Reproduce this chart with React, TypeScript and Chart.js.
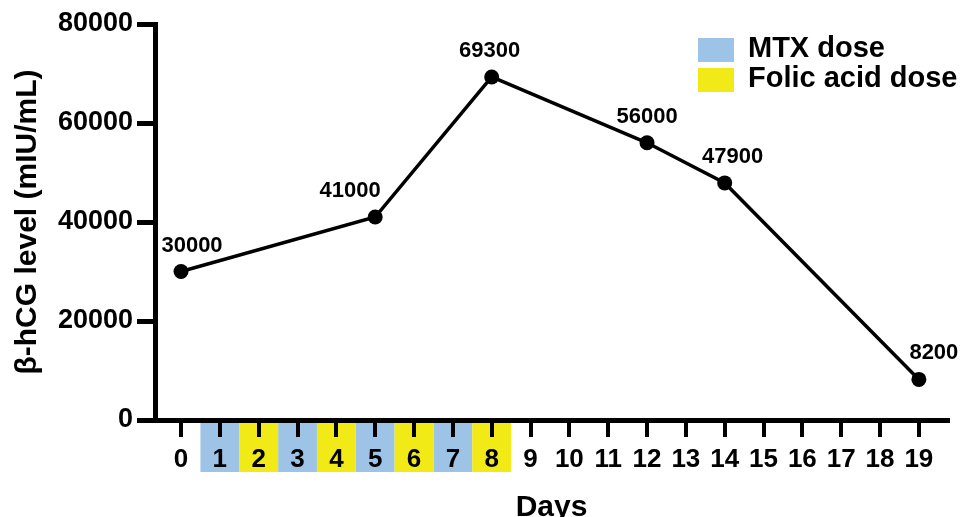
import React, { useEffect, useRef } from "react";
import { Chart, registerables } from "chart.js";

Chart.register(...registerables);

// ---- data ----
const days = [0, 5, 8, 12, 14, 19];
const levels = [30000, 41000, 69300, 56000, 47900, 8200];
const dayTicks = [0, 1, 2, 3, 4, 5, 6, 7, 8, 9, 10, 11, 12, 13, 14, 15, 16, 17, 18, 19];
const yTicks = [0, 20000, 40000, 60000, 80000];
const mtxDays = [1, 3, 5, 7];
const folicDays = [2, 4, 6, 8];
const legendLabels = ["MTX dose", "Folic acid dose"];
const yTitle = "β-hCG level (mIU/mL)";
const xTitle = "Days";

// ---- style ----
const FONT = "'Liberation Sans', Arial, Helvetica, sans-serif";
const BLUE = "#9dc3e6";
const YELLOW = "#f2ea17";
const labelShift = [11, -25, -2, 0, 8, 15];

const doseCellsPlugin = {
  id: "doseCells",
  beforeDraw(chart: any) {
    const x = chart.scales.x;
    const bottom = chart.chartArea.bottom;
    const ctx = chart.ctx;
    ctx.save();
    const draw = (list: number[], color: string) => {
      ctx.fillStyle = color;
      list.forEach((d) => {
        const l = x.getPixelForValue(d - 0.5);
        const r = x.getPixelForValue(d + 0.5);
        ctx.fillRect(l, bottom + 2, r - l, 50);
      });
    };
    draw(mtxDays, BLUE);
    draw(folicDays, YELLOW);
    ctx.restore();
  },
};

const valueLabelsPlugin = {
  id: "valueLabels",
  afterDatasetsDraw(chart: any) {
    const ctx = chart.ctx;
    const meta = chart.getDatasetMeta(0);
    ctx.save();
    ctx.fillStyle = "#000";
    ctx.font = `bold 22px ${FONT}`;
    ctx.textAlign = "center";
    ctx.textBaseline = "middle";
    meta.data.forEach((pt: any, i: number) => {
      ctx.fillText(String(levels[i]), pt.x + labelShift[i], pt.y - 26);
    });
    ctx.restore();
  },
};

const legendPlugin = {
  id: "doseLegend",
  afterDraw(chart: any) {
    const ctx = chart.ctx;
    const right = chart.chartArea.right;
    const colors = [BLUE, YELLOW];
    ctx.save();
    ctx.font = `bold 29px ${FONT}`;
    ctx.textAlign = "left";
    ctx.textBaseline = "middle";
    legendLabels.forEach((label, i) => {
      const top = 38 + i * 30;
      ctx.fillStyle = colors[i];
      ctx.fillRect(right - 250, top, 36, 24);
      ctx.fillStyle = "#000";
      ctx.fillText(label, right - 200, top + 11);
    });
    ctx.restore();
  },
};

export default function App() {
  const canvasRef = useRef<HTMLCanvasElement | null>(null);

  useEffect(() => {
    document.body.style.margin = "0";
    const canvas = canvasRef.current;
    if (!canvas) return;
    const chart = new Chart(canvas, {
      type: "line",
      data: {
        datasets: [
          {
            data: days.map((d, i) => ({ x: d, y: levels[i] })),
            borderColor: "#000",
            backgroundColor: "#000",
            borderWidth: 3.5,
            pointRadius: 7.5,
            pointBorderWidth: 0,
            pointBackgroundColor: "#000",
            tension: 0,
            fill: false,
          },
        ],
      },
      options: {
        animation: false,
        responsive: false,
        devicePixelRatio: 1,
        layout: { padding: { top: 24, right: 15, left: 0, bottom: 0 } },
        plugins: {
          legend: { display: false },
          tooltip: { enabled: false },
        },
        scales: {
          x: {
            type: "linear",
            min: -0.67,
            max: 19.75,
            afterBuildTicks: (s: any) => {
              s.ticks = dayTicks.map((v) => ({ value: v }));
            },
            afterFit: (s: any) => {
              s.height = 97;
            },
            ticks: {
              autoSkip: false,
              maxRotation: 0,
              minRotation: 0,
              color: "#000",
              padding: 7,
              font: { family: FONT, size: 26, weight: "bold" },
              callback: (v: any) => String(v),
            },
            grid: {
              display: true,
              drawOnChartArea: false,
              drawTicks: true,
              tickLength: 17,
              lineWidth: 4,
              tickWidth: 4,
              color: "#000",
              tickColor: "#000",
            },
            border: { display: true, width: 5, color: "#000" },
            title: {
              display: true,
              text: xTitle,
              color: "#000",
              padding: { top: 0, bottom: 0 },
              font: { family: FONT, size: 30, weight: "bold", lineHeight: 0.6 },
            },
          },
          y: {
            type: "linear",
            min: yTicks[0],
            max: yTicks[yTicks.length - 1],
            afterBuildTicks: (s: any) => {
              s.ticks = yTicks.map((v) => ({ value: v }));
            },
            afterFit: (s: any) => {
              s.width = 155;
            },
            ticks: {
              color: "#000",
              padding: 4,
              font: { family: FONT, size: 27, weight: "bold" },
              callback: (v: any) => String(v),
            },
            grid: {
              display: true,
              drawOnChartArea: false,
              drawTicks: true,
              tickLength: 18,
              lineWidth: 5,
              tickWidth: 5,
              color: "#000",
              tickColor: "#000",
            },
            border: { display: true, width: 5, color: "#000" },
            title: {
              display: true,
              text: yTitle,
              color: "#000",
              padding: { top: 10, bottom: 0 },
              font: { family: FONT, size: 30, weight: "bold" },
            },
          },
        },
      } as any,
      plugins: [doseCellsPlugin, valueLabelsPlugin, legendPlugin],
    });
    return () => chart.destroy();
  }, []);

  return (
    <div style={{ width: 963, height: 517, background: "#fff" }}>
      <canvas ref={canvasRef} width={963} height={517} style={{ display: "block" }} />
    </div>
  );
}
